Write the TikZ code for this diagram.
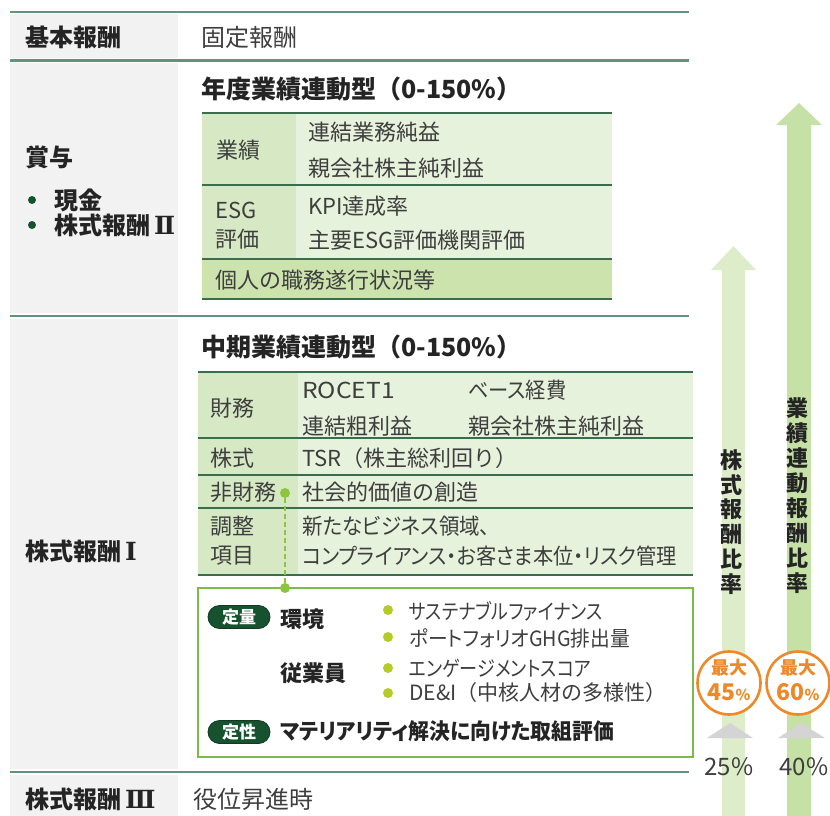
\documentclass[tikz,border=0pt]{standalone}
\usepackage{fontspec}
\usepackage{graphicx}
\setmainfont{Noto Sans CJK JP}
\newfontfamily\pf{Noto Sans CJK JP}[RawFeature=+palt]
\newfontfamily\rn{DejaVu Serif}
\newcommand{\hs}[2]{\scalebox{#1}[1]{#2}}
\newcommand{\rnum}[1]{\,{\rn\bfseries\fontsize{25}{28}\selectfont #1}}
\definecolor{sepc}{RGB}{100,146,122}
\definecolor{grayb}{RGB}{242,242,242}
\definecolor{tlinec}{RGB}{58,108,78}
\definecolor{cellL}{RGB}{214,233,196}
\definecolor{cellR}{RGB}{231,242,220}
\definecolor{cellM}{RGB}{205,227,174}
\definecolor{gboxc}{RGB}{124,186,74}
\definecolor{gdotc}{RGB}{140,198,63}
\definecolor{badgec}{RGB}{22,82,46}
\definecolor{bulc}{RGB}{182,203,40}
\definecolor{orangec}{RGB}{238,136,40}
\definecolor{arrAc}{RGB}{221,237,202}
\definecolor{arrBc}{RGB}{198,225,166}
\definecolor{tric}{RGB}{212,212,212}
\definecolor{textc}{RGB}{62,62,62}
\definecolor{labelc}{RGB}{36,36,36}
\tikzset{
  sepline/.style={draw=sepc, line width=2.6pt},
  tline/.style={draw=tlinec, line width=2.2pt},
  lbl/.style={anchor=west, inner sep=0pt, text=labelc, font=\bfseries\fontsize{24}{28}\selectfont},
  head/.style={anchor=west, inner sep=0pt, text=labelc, font=\bfseries\fontsize{25}{29}\selectfont},
  txt/.style={anchor=west, inner sep=0pt, text=textc, font=\fontsize{24}{28}\selectfont},
  ttxt/.style={anchor=west, inner sep=0pt, text=textc, font=\fontsize{22}{26}\selectfont},
  ptxt/.style={anchor=west, inner sep=0pt, text=textc, font=\pf\fontsize{22}{26}\selectfont},
  gtxt/.style={anchor=west, inner sep=0pt, text=textc, font=\pf\fontsize{21}{25}\selectfont},
  btxt/.style={anchor=west, inner sep=0pt, text=labelc, font=\bfseries\fontsize{22}{26}\selectfont},
  bptxt/.style={anchor=west, inner sep=0pt, text=labelc, font=\pf\bfseries\fontsize{22}{26}\selectfont},
  gdot/.style={circle, fill=gdotc, inner sep=0pt, minimum size=10pt},
  gdash/.style={draw=gdotc, line width=1.6pt, dash pattern=on 5pt off 3pt},
  bdot/.style={circle, fill=badgec, inner sep=0pt, minimum size=8pt},
  ydot/.style={circle, fill=bulc, inner sep=0pt, minimum size=10pt},
  badge/.style={rounded corners=11.5pt, fill=badgec, draw=badgec!70!black, line width=0.8pt, text=white, inner sep=0pt, minimum width=62pt, minimum height=23pt, font=\bfseries\fontsize{17}{19}\selectfont},
  ocirc/.style={circle, draw=orangec, line width=2.6pt, fill=white, minimum size=63pt, inner sep=0pt},
  otext/.style={inner sep=0pt, text=orangec, font=\bfseries\fontsize{18}{20}\selectfont},
  onum/.style={inner sep=0pt, text=orangec, font=\bfseries\fontsize{23}{26}\selectfont},
  vtext/.style={inner sep=0pt, align=center, text=labelc, font=\bfseries\fontsize{22}{24.9}\selectfont},
  pct/.style={inner sep=0pt, text=textc, font=\fontsize{24}{28}\selectfont},
}
\begin{document}
\begin{tikzpicture}[x=1pt,y=-1pt]
\useasboundingbox (0,0) rectangle (830,816);
% arrows
\fill[arrAc] (722,816) -- (722,270) -- (711,270) -- (733.5,246) -- (756,270) -- (745,270) -- (745,816) -- cycle;
\fill[arrBc] (787,816) -- (787,125) -- (776,125) -- (799,103) -- (822,125) -- (811,125) -- (811,816) -- cycle;
% gray label column
\fill[grayb] (10,14) rectangle (178,58);
\fill[grayb] (10,63) rectangle (178,313);
\fill[grayb] (10,319) rectangle (178,769);
\fill[grayb] (10,775) rectangle (178,816);
% separators
\draw[sepline] (10,12) -- (689,12);
\draw[sepline] (10,60.5) -- (689,60.5);
\draw[sepline] (10,316) -- (689,316);
\draw[sepline] (10,772) -- (689,772);
% row 1
\node[lbl] (k1) at (25,37) {基本報酬};
\node[txt] (k2) at (201,37) {固定報酬};
% row 2
\node[lbl] (s1) at (25,157) {賞与};
\node[bdot] (b1) at (32,200) {};
\node[lbl] (s2) at (54,200) {現金};
\node[bdot] (b2) at (32,225) {};
\node[lbl] (s3) at (54,225) {株式報酬\rnum{Ⅱ}};
\node[head] (h1) at (201,89) {年度業績連動型（0-150\%）};
\fill[cellL] (202,113) rectangle (296,185);
\fill[cellR] (296,113) rectangle (612,185);
\fill[cellL] (202,185) rectangle (296,259);
\fill[cellR] (296,185) rectangle (612,259);
\fill[cellM] (202,259) rectangle (612,299);
\draw[tline] (202,113) -- (612,113);
\draw[tline] (202,185) -- (612,185);
\draw[tline] (202,259) -- (612,259);
\draw[tline] (202,299) -- (612,299);
\node[ttxt] (t1a) at (216,150) {業績};
\node[ttxt] (t1b) at (308,132) {連結業務純益};
\node[ttxt] (t1c) at (308,168) {親会社株主純利益};
\node[ttxt] (t1d) at (215,210) {ESG};
\node[ttxt] (t1e) at (215,239) {評価};
\node[ttxt] (t1f) at (308,206) {KPI達成率};
\node[ttxt] (t1g) at (308,240) {主要ESG評価機関評価};
\node[ttxt] (t1h) at (215,280) {個人の職務遂行状況等};
% row 3
\node[lbl] (s4) at (25,551) {株式報酬\rnum{Ⅰ}};
\node[head] (h2) at (201,347) {中期業績連動型（0-150\%）};
\fill[cellL] (198,372) rectangle (298,575);
\fill[cellR] (298,372) rectangle (693,575);
\draw[tline] (198,372) -- (693,372);
\draw[tline] (198,438) -- (693,438);
\draw[tline] (198,475) -- (693,475);
\draw[tline] (198,508) -- (693,508);
\draw[tline] (198,575) -- (693,575);
\node[ttxt] (t2a) at (210,408) {財務};
\node[ttxt] (t2b) at (302,390) {\hs{1.12}{ROCET1}};
\node[ptxt] (t2c) at (468,390) {\hs{0.92}{ベース経費}};
\node[ttxt] (t2d) at (302,426) {連結粗利益};
\node[ttxt] (t2e) at (468,426) {親会社株主純利益};
\node[ttxt] (t2f) at (210,458) {株式};
\node[ttxt] (t2g) at (302,458) {TSR（株主総利回り）};
\node[ttxt] (t2h) at (210,492) {非財務};
\node[ttxt] (t2i) at (302,492) {社会的価値の創造};
\node[ttxt] (t2j) at (210,526) {調整};
\node[ttxt] (t2k) at (210,556) {項目};
\node[ptxt] (t2l) at (302,526) {\hs{0.93}{新たなビジネス領域、}};
\node[ptxt] (t2m) at (302,556) {\hs{0.92}{コンプライアンス・お客さま本位・リスク管理}};
% green box
\draw[draw=gboxc, line width=2.2pt] (198,588) rectangle (693,757);
\node[gdot] (d1) at (285,493) {};
\node[gdot] (d2) at (285,588) {};
\draw[gdash] (d1) -- (d2);
\node[badge] (q1) at (239,617) {定量};
\node[btxt] (e1) at (280,619) {環境};
\node[ydot] (y1) at (388,610) {};
\node[gtxt] (e2) at (409,611) {\hs{0.86}{サステナブルファイナンス}};
\node[ydot] (y2) at (388,637) {};
\node[gtxt] (e3) at (409,638) {\hs{0.94}{ポートフォリオGHG排出量}};
\node[btxt] (e4) at (280,673) {従業員};
\node[ydot] (y3) at (388,668) {};
\node[gtxt] (e5) at (409,668) {\hs{0.86}{エンゲージメントスコア}};
\node[ydot] (y4) at (388,693) {};
\node[ttxt, font=\fontsize{21}{25}\selectfont] (e6) at (409,693) {DE\&I（中核人材の多様性）};
\node[badge] (q2) at (239,732) {定性};
\node[bptxt] (e7) at (280,731) {\hs{0.945}{マテリアリティ解決に向けた取組評価}};
% row 4
\node[lbl] (s5) at (25,799) {株式報酬\rnum{Ⅲ}};
\node[txt] (k3) at (193,799) {役位昇進時};
% vertical labels
\node[vtext] (v1) at (731,522) {株\\式\\報\\酬\\比\\率};
\node[vtext] (v2) at (797,495.5) {業\\績\\連\\動\\報\\酬\\比\\率};
% circles
\node[ocirc] (c1) at (729,683) {};
\node[otext] (c1a) at (729,668) {最大};
\node[onum] (c1b) at (729,692) {45{\fontsize{15}{17}\selectfont\%}};
\node[ocirc] (c2) at (798,683) {};
\node[otext] (c2a) at (798,668) {最大};
\node[onum] (c2b) at (798,692) {60{\fontsize{15}{17}\selectfont\%}};
% triangles and base values
\fill[tric] (707,738) -- (730,723) -- (753,738) -- cycle;
\fill[tric] (778,738) -- (801,723) -- (825,738) -- cycle;
\node[pct] (p1) at (729,767) {25\%};
\node[pct] (p2) at (804,767) {40\%};
\end{tikzpicture}
\end{document}
